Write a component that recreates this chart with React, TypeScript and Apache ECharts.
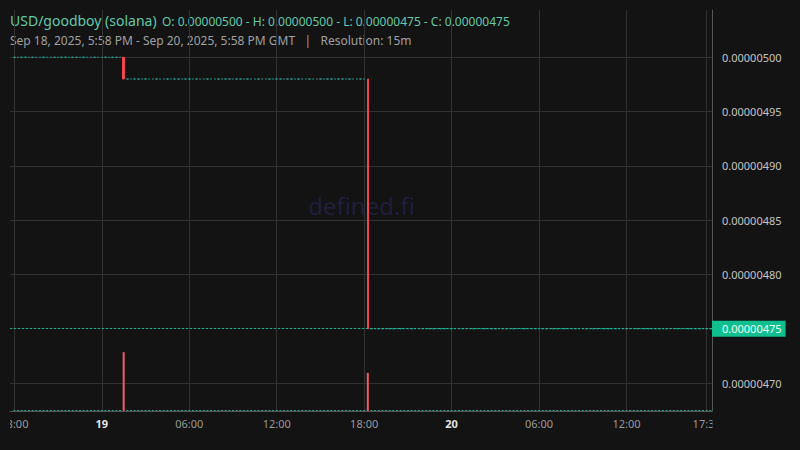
import { useEffect, useRef } from "react";
import * as echarts from "echarts";

// ---- data ----

const PAIR_NAME = "USD/goodboy (solana)";
const RANGE_TEXT = "Sep 18, 2025, 5:58 PM - Sep 20, 2025, 5:58 PM GMT   |   Resolution: 15m";
const OHLC_KEYS = ["O", "H", "L", "C"];
const OHLC_VALUES = [0.000005, 0.000005, 0.00000475, 0.00000475];

const SLOT_MINUTES = 15;
const FIRST_CANDLE = "2025-09-18T18:00:00Z";
const CANDLE_COUNT = 192;
const START_PRICE = 0.000005;

// the only candles that moved; every other 15m candle is flat at the previous close
const MOVE_TIMES = ["2025-09-19T01:30:00Z", "2025-09-19T18:15:00Z"];
const MOVE_OPEN = [0.000005, 0.00000498];
const MOVE_HIGH = [0.000005, 0.00000498];
const MOVE_LOW = [0.00000498, 0.00000475];
const MOVE_CLOSE = [0.00000498, 0.00000475];
const MOVE_VOLUME = [1320, 855];
const FLAT_VOLUME = 0;

const LAST_TIME = "2025-09-20T17:45:00Z";
const LAST_PRICE = 0.00000475;

const PRICE_TICKS = [0.0000047, 0.00000475, 0.0000048, 0.00000485, 0.0000049, 0.00000495, 0.000005];
const PRICE_LABELS = [0.0000047, 0.0000048, 0.00000485, 0.0000049, 0.00000495, 0.000005];
const PRICE_MIN = 0.00000467423;
const PRICE_MAX = 0.00000504353;

const TIME_TICKS = [
  "2025-09-18T18:00:00Z",
  "2025-09-19T00:00:00Z",
  "2025-09-19T06:00:00Z",
  "2025-09-19T12:00:00Z",
  "2025-09-19T18:00:00Z",
  "2025-09-20T00:00:00Z",
  "2025-09-20T06:00:00Z",
  "2025-09-20T12:00:00Z",
  "2025-09-20T17:30:00Z",
];
const TIME_MIN = "2025-09-18T17:42:00Z";
const TIME_MAX = "2025-09-20T17:52:00Z";

const VOLUME_MAX = 9000;

// ---- styles ----

const BG = "#131313";
const UP = "#22a595";
const DOWN = "#f0474f";
const DOWN_VOL = "#ec5d6d";
const GRID_LINE = "#323232";
const AXIS_LINE = "#555555";
const TEAL_TEXT = "#63c9a8";
const FONT = '"Noto Sans", "Open Sans", sans-serif';

const pad = (n: number) => String(n).padStart(2, "0");

function buildSeriesData() {
  const start = Date.parse(FIRST_CANDLE);
  const moves = MOVE_TIMES.map((t) => Date.parse(t));
  const candles: number[][] = [];
  const volumes: any[] = [];
  let price = START_PRICE;
  for (let i = 0; i < CANDLE_COUNT; i++) {
    const t = start + i * SLOT_MINUTES * 60000;
    const m = moves.indexOf(t);
    if (m >= 0) {
      candles.push([t, MOVE_OPEN[m], MOVE_CLOSE[m], MOVE_LOW[m], MOVE_HIGH[m]]);
      volumes.push({
        value: [t, MOVE_VOLUME[m]],
        itemStyle: { color: MOVE_CLOSE[m] < MOVE_OPEN[m] ? DOWN_VOL : UP },
      });
      price = MOVE_CLOSE[m];
    } else {
      candles.push([t, price, price, price, price]);
      volumes.push({ value: [t, FLAT_VOLUME], itemStyle: { color: UP } });
    }
  }
  return { candles, volumes };
}

export default function App() {
  const chartRef = useRef<HTMLDivElement>(null);

  useEffect(() => {
    document.body.style.margin = "0";
    document.body.style.background = BG;
    if (!chartRef.current) return;

    const chart = echarts.init(chartRef.current, null, { renderer: "svg" });
    const { candles, volumes } = buildSeriesData();
    const ohlcText = OHLC_KEYS.map((k, i) => `${k}: ${OHLC_VALUES[i].toFixed(8)}`).join(" - ");

    chart.setOption({
      animation: false,
      backgroundColor: BG,
      grid: { left: 10, right: 88, top: 10, bottom: 39, containLabel: false, outerBoundsMode: "none" },
      xAxis: {
        type: "value",
        min: Date.parse(TIME_MIN),
        max: Date.parse(TIME_MAX),
        axisLine: { show: true, lineStyle: { color: AXIS_LINE } },
        axisTick: { show: false, customValues: TIME_TICKS.map((t) => Date.parse(t)) },
        splitLine: { show: true, lineStyle: { color: GRID_LINE } },
        axisLabel: {
          customValues: TIME_TICKS.map((t) => Date.parse(t)),
          margin: 7,
          color: "#9a9a9a",
          fontSize: 11,
          fontFamily: FONT,
          formatter: (v: number) => {
            const d = new Date(v);
            const h = d.getUTCHours();
            const m = d.getUTCMinutes();
            if (h === 0 && m === 0) return `{day|${d.getUTCDate()}}`;
            return `${pad(h)}:${pad(m)}`;
          },
          rich: {
            day: { fontWeight: "bold", color: "#e2e2e2", fontSize: 11, fontFamily: FONT },
          },
        },
      },
      yAxis: [
        {
          type: "value",
          position: "right",
          min: PRICE_MIN,
          max: PRICE_MAX,
          axisLine: { show: true, lineStyle: { color: AXIS_LINE } },
          axisTick: { show: false, customValues: PRICE_TICKS },
          splitLine: { show: true, lineStyle: { color: GRID_LINE } },
          axisLabel: {
            customValues: PRICE_LABELS,
            margin: 10,
            color: "#c4c4c4",
            fontSize: 11,
            fontFamily: FONT,
            formatter: (v: number) => v.toFixed(8),
          },
        },
        {
          type: "value",
          show: false,
          min: 0,
          max: VOLUME_MAX,
          splitLine: { show: false },
        },
      ],
      graphic: [
        {
          type: "text",
          z: -1,
          x: 361.5,
          y: 205,
          style: {
            text: "defined.fi",
            fill: "#1f1e3b",
            fontSize: 24,
            fontFamily: FONT,
            align: "center",
            verticalAlign: "middle",
          },
        },
        {
          type: "text",
          x: 10,
          y: 20,
          style: {
            text: PAIR_NAME,
            fill: TEAL_TEXT,
            fontSize: 14,
            fontFamily: FONT,
            verticalAlign: "middle",
          },
        },
        {
          type: "text",
          x: 162,
          y: 21,
          style: {
            text: ohlcText,
            fill: TEAL_TEXT,
            fontSize: 12,
            fontFamily: FONT,
            verticalAlign: "middle",
          },
        },
        {
          type: "text",
          x: 10,
          y: 40.5,
          style: {
            text: RANGE_TEXT,
            fill: "#a0a0a0",
            fontSize: 12,
            fontFamily: FONT,
            verticalAlign: "middle",
          },
        },
        // the chart clips time labels at the plot edges
        { type: "rect", z: 100, shape: { x: 0, y: 413, width: 10, height: 37 }, style: { fill: BG } },
        { type: "rect", z: 100, shape: { x: 712.5, y: 413, width: 88, height: 37 }, style: { fill: BG } },
      ],
      series: [
        {
          name: "volume",
          type: "bar",
          xAxisIndex: 0,
          yAxisIndex: 1,
          barWidth: 2,
          barMinHeight: 1,
          data: volumes,
          z: 1,
        },
        {
          name: "price",
          type: "candlestick",
          xAxisIndex: 0,
          yAxisIndex: 0,
          encode: { x: 0, y: [1, 2, 3, 4] },
          barWidth: 2,
          data: candles,
          z: 3,
          itemStyle: {
            color: UP,
            color0: DOWN,
            borderColor: UP,
            borderColor0: DOWN,
            borderColorDoji: UP,
            borderWidth: 1,
          },
        },
        {
          name: "last",
          type: "line",
          xAxisIndex: 0,
          yAxisIndex: 0,
          data: [[Date.parse(LAST_TIME), LAST_PRICE]],
          showSymbol: false,
          symbol: "none",
          lineStyle: { opacity: 0 },
          z: 4,
          markLine: {
            silent: true,
            precision: 10,
            symbol: ["none", "none"],
            lineStyle: { color: "#14b48d", type: [2, 2], width: 1 },
            label: {
              position: "end",
              distance: 0,
              formatter: () => LAST_PRICE.toFixed(8),
              backgroundColor: "#0fbf8f",
              color: "#effff8",
              fontSize: 11,
              fontFamily: FONT,
              lineHeight: 11,
              padding: [3, 4, 2, 10],
            },
            data: [{ yAxis: LAST_PRICE }],
          },
        },
      ],
    });

    return () => chart.dispose();
  }, []);

  return <div ref={chartRef} style={{ width: "800px", height: "450px" }} />;
}
